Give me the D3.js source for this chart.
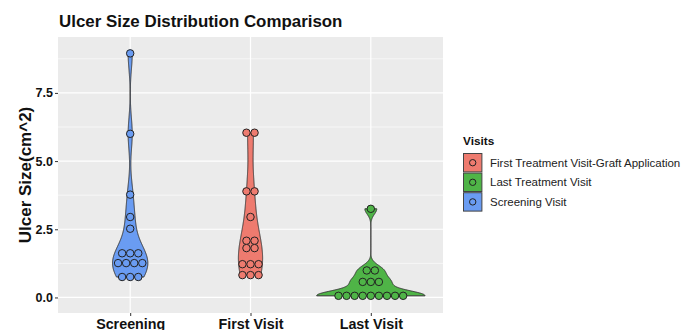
<!DOCTYPE html>
<html>
<head>
<meta charset="utf-8">
<script src="https://cdn.jsdelivr.net/npm/d3@7"></script>
<style>
  html, body { margin: 0; padding: 0; background: #fff; }
  svg { display: block; font-family: "Liberation Sans", Arial, sans-serif; }
</style>
</head>
<body>
<svg id="chart" width="691" height="330"></svg>
<script>
// Ulcer size (cm^2) per patient at each visit
const categories = ["Screening", "First Visit", "Last Visit"];
const visitNames = ["Screening Visit", "First Treatment Visit-Graft Application", "Last Treatment Visit"];
const screeningValues = [8.95, 6.0, 3.77, 2.95, 2.52, 1.62, 1.62, 1.62, 1.26, 1.26, 1.26, 1.26, 0.75, 0.75, 0.75];
const firstVisitValues = [6.04, 6.04, 3.89, 3.89, 2.95, 2.08, 2.08, 1.81, 1.81, 1.22, 1.22, 1.22, 0.82, 0.82, 0.82];
const lastVisitValues = [3.25, 0.99, 0.99, 0.57, 0.57, 0.57, 0.06, 0.06, 0.06, 0.06, 0.06, 0.06, 0.06, 0.06, 0.06];
const yTicks = [0, 2.5, 5, 7.5];
const yMinorTicks = [1.25, 3.75, 6.25, 8.75];
const legendOrder = ["First Treatment Visit-Graft Application", "Last Treatment Visit", "Screening Visit"];
const visitColors = ["#6A9CF2", "#EE7B6F", "#4FB447"];

const svg = d3.select("#chart");
const panel = { left: 58, right: 443, top: 37, bottom: 313 };

const x = d3.scalePoint().domain(categories).range([panel.left, panel.right]).padding(0.6);
const y = d3.scaleLinear().domain([-0.57, 9.55]).range([panel.bottom, panel.top]);
const color = d3.scaleOrdinal().domain(visitNames).range(visitColors);

const groups = [screeningValues, firstVisitValues, lastVisitValues].map((vals, i) => ({
  cat: categories[i], visit: visitNames[i], values: vals
}));

// Gaussian kernel density, bandwidth by Silverman's rule (bw.nrd0), trimmed to the data range
function bwNrd0(v) {
  const s = d3.deviation(v);
  const iqr = d3.quantile(v, 0.75) - d3.quantile(v, 0.25);
  let lo = Math.min(s, iqr / 1.34);
  if (!(lo > 0)) lo = s || Math.abs(v[0]) || 1;
  return 0.9 * lo * Math.pow(v.length, -0.2);
}
function kde(vals, n = 512) {
  const v = vals.slice().sort(d3.ascending);
  const bw = bwNrd0(v);
  const lo = v[0], hi = v[v.length - 1];
  const pts = [];
  for (let i = 0; i < n; i++) {
    const t = lo + (hi - lo) * i / (n - 1);
    let s = 0;
    for (const d of v) { const u = (t - d) / bw; s += Math.exp(-0.5 * u * u); }
    pts.push([t, s / (v.length * bw * Math.sqrt(2 * Math.PI))]);
  }
  return pts;
}
groups.forEach(g => { g.density = kde(g.values); });
const maxDensity = d3.max(groups, g => d3.max(g.density, d => d[1]));
const halfWidth = d3.scaleLinear().domain([0, maxDensity]).range([0, x.step() * 0.9 / 2]);

// Panel background and grid
svg.append("rect")
  .attr("x", panel.left).attr("y", panel.top)
  .attr("width", panel.right - panel.left).attr("height", panel.bottom - panel.top)
  .attr("fill", "#EBEBEB");
svg.append("g").selectAll("line").data(yMinorTicks).join("line")
  .attr("x1", panel.left).attr("x2", panel.right)
  .attr("y1", d => y(d)).attr("y2", d => y(d))
  .attr("stroke", "#fff").attr("stroke-width", 0.6);
svg.append("g").selectAll("line").data(yTicks).join("line")
  .attr("x1", panel.left).attr("x2", panel.right)
  .attr("y1", d => y(d)).attr("y2", d => y(d))
  .attr("stroke", "#fff").attr("stroke-width", 1.2);
svg.append("g").selectAll("line").data(categories).join("line")
  .attr("x1", d => x(d)).attr("x2", d => x(d))
  .attr("y1", panel.top).attr("y2", panel.bottom)
  .attr("stroke", "#fff").attr("stroke-width", 1.2);

// Violins
const violinArea = cx => d3.area()
  .y(d => y(d[0]))
  .x0(d => cx - halfWidth(d[1]))
  .x1(d => cx + halfWidth(d[1]));
svg.append("g").selectAll("path").data(groups).join("path")
  .attr("d", g => violinArea(x(g.cat))(g.density) + "Z")
  .attr("fill", g => color(g.visit))
  .attr("stroke", "#333")
  .attr("stroke-width", 1);

// Dot plot: equal values stack side by side, centred on the category
const allValues = groups.flatMap(g => g.values);
const binwidth = (d3.max(allValues) - d3.min(allValues)) / 30;
const dotD = y(0) - y(binwidth);
const dots = [];
groups.forEach(g => {
  const bins = d3.rollup(g.values, v => v.length, d => d);
  for (const [val, k] of bins) {
    for (let j = 0; j < k; j++) {
      dots.push({ visit: g.visit, cx: x(g.cat) + (j - (k - 1) / 2) * dotD, val });
    }
  }
});
svg.append("g").selectAll("circle").data(dots).join("circle")
  .attr("cx", d => d.cx).attr("cy", d => y(d.val))
  .attr("r", dotD / 2 - 0.3)
  .attr("fill", d => color(d.visit))
  .attr("stroke", "#222").attr("stroke-width", 1);

// Axes
const yAxis = svg.append("g").attr("transform", `translate(${panel.left},0)`)
  .call(d3.axisLeft(y).tickValues(yTicks).tickFormat(d3.format(".1f")).tickSize(3).tickPadding(2));
yAxis.select(".domain").remove();
yAxis.selectAll(".tick line").attr("stroke", "#333").attr("stroke-width", 1);
yAxis.selectAll(".tick text").attr("fill", "#111").attr("font-size", "12.5px").attr("font-weight", "bold")
  .attr("font-family", "Liberation Sans, Arial, sans-serif");

const xAxis = svg.append("g").attr("transform", `translate(0,${panel.bottom})`)
  .call(d3.axisBottom(x).tickSize(3).tickPadding(3));
xAxis.select(".domain").remove();
xAxis.selectAll(".tick line").attr("stroke", "#333").attr("stroke-width", 1);
xAxis.selectAll(".tick text").attr("fill", "#111").attr("font-size", "14.3px").attr("font-weight", "bold")
  .attr("font-family", "Liberation Sans, Arial, sans-serif");

// Titles
svg.append("text").attr("x", 59).attr("y", 26.5)
  .attr("font-size", "16.9px").attr("font-weight", "bold").attr("fill", "#111")
  .text("Ulcer Size Distribution Comparison");
svg.append("text")
  .attr("transform", `translate(31,${(panel.top + panel.bottom) / 2}) rotate(-90)`)
  .attr("text-anchor", "middle")
  .attr("font-size", "17px").attr("font-weight", "bold").attr("fill", "#111")
  .text("Ulcer Size(cm^2)");

// Legend
const legend = svg.append("g").attr("transform", "translate(463,0)");
legend.append("text").attr("x", 0).attr("y", 144.5)
  .attr("font-size", "11.8px").attr("font-weight", "bold").attr("fill", "#111")
  .text("Visits");
const keySize = 19.4;
const keyTop = 153;
const items = legend.selectAll("g.key").data(legendOrder).join("g")
  .attr("class", "key")
  .attr("transform", (d, i) => `translate(0,${keyTop + i * (keySize + 0.2)})`);
items.append("rect")
  .attr("x", 0.5).attr("y", 0.5).attr("width", keySize - 1).attr("height", keySize - 1)
  .attr("fill", d => color(d)).attr("stroke", "#444").attr("stroke-width", 1);
items.append("circle")
  .attr("cx", keySize / 2).attr("cy", keySize / 2).attr("r", 3.2)
  .attr("fill", d => color(d)).attr("stroke", "#222").attr("stroke-width", 1);
items.append("text")
  .attr("x", 27).attr("y", keySize / 2).attr("dy", "0.35em")
  .attr("font-size", "11.5px").attr("fill", "#222")
  .text(d => d);
</script>
</body>
</html>
